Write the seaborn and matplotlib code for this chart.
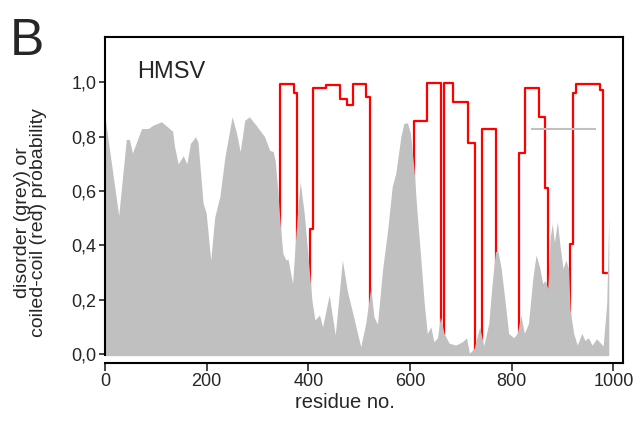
import numpy as np
import pandas as pd
import matplotlib
matplotlib.use("Agg")
import matplotlib.pyplot as plt
from matplotlib.ticker import FuncFormatter
import seaborn as sns

# disorder profile (grey)
dis_res = [0, 27, 42, 48, 54, 61, 72, 85, 95, 111, 124, 133, 137, 144, 154, 161,
           168, 178, 183, 193, 199, 208, 216, 226, 236, 250, 258, 266, 275, 284,
           297, 314, 324, 331, 335, 340, 345, 350, 356, 360, 369, 378, 384, 392,
           399, 407, 413, 422, 428, 441, 453, 467, 477, 490, 503, 513, 523, 529,
           536, 546, 556, 565, 572, 582, 588, 595, 601, 608, 614, 621, 628, 634,
           641, 647, 654, 660, 667, 677, 690, 703, 711, 717, 726, 737, 745, 755,
           761, 768, 773, 779, 786, 794, 804, 811, 818, 825, 833, 842, 848, 855,
           861, 866, 871, 876, 880, 884, 890, 895, 901, 907, 912, 915, 922, 929,
           938, 944, 951, 958, 967, 980, 987, 991]
dis_val = [0.873, 0.51, 0.79, 0.79, 0.74, 0.775, 0.83, 0.83, 0.843, 0.855, 0.835,
           0.82, 0.763, 0.70, 0.73, 0.70, 0.775, 0.80, 0.78, 0.555, 0.52, 0.346,
           0.505, 0.58, 0.726, 0.873, 0.82, 0.745, 0.861, 0.873, 0.843, 0.80,
           0.75, 0.745, 0.71, 0.60, 0.47, 0.37, 0.346, 0.35, 0.26, 0.505, 0.634,
           0.518, 0.37, 0.199, 0.125, 0.144, 0.10, 0.217, 0.07, 0.346, 0.23,
           0.13, 0.027, 0.113, 0.248, 0.137, 0.11, 0.31, 0.456, 0.616, 0.665,
           0.80, 0.849, 0.851, 0.812, 0.677, 0.518, 0.358, 0.187, 0.076, 0.10,
           0.045, 0.06, 0.137, 0.076, 0.04, 0.033, 0.045, 0.06, 0.003, 0.02,
           0.10, 0.03, 0.113, 0.248, 0.377, 0.379, 0.32, 0.211, 0.076, 0.06,
           0.076, 0.144, 0.076, 0.113, 0.285, 0.364, 0.32, 0.26, 0.27, 0.242,
           0.432, 0.48, 0.41, 0.487, 0.40, 0.315, 0.346, 0.31, 0.162, 0.076,
           0.033, 0.076, 0.05, 0.06, 0.033, 0.056, 0.03, 0.187, 0.505]

# coiled-coil probability (red), step breakpoints
cc_res = [0, 344, 371, 378, 404, 410, 435, 463, 477, 487, 514, 522, 608, 634,
          661, 666, 684, 714, 728, 742, 770, 805, 814, 827, 853, 865, 871, 914,
          920, 927, 974, 980, 987]
cc_val = [0, 0.994, 0.962, 0, 0.459, 0.98, 0.99, 0.94, 0.916, 0.994, 0.947, 0,
          0.859, 0.996, 0, 0.996, 0.929, 0.778, 0, 0.827, 0, 0.05, 0.741, 0.978,
          0.873, 0.61, 0, 0.405, 0.96, 0.993, 0.972, 0.30, 0.30]

# grey reference bar
ref_start, ref_end, ref_level = 838, 966, 0.827

x_ticks = [0, 200, 400, 600, 800, 1000]
y_ticks = [0.0, 0.2, 0.4, 0.6, 0.8, 1.0]

sns.set_style("ticks")
plt.rcParams["font.family"] = ["Liberation Sans", "DejaVu Sans"]

fig = plt.figure(figsize=(6.44, 4.22), dpi=100)
ax = fig.add_axes([0.163, 0.1398, 0.8044, 0.7725])

cc = pd.DataFrame({"res": cc_res, "prob": cc_val})
sns.lineplot(data=cc, x="res", y="prob", ax=ax, color="#ff0000", lw=1.6,
             drawstyle="steps-post", zorder=1, estimator=None)
# fill slightly below zero so the red baseline stays hidden
ax.fill_between(dis_res, dis_val, -0.006, color="#c0c0c0", lw=0, zorder=2)
ax.hlines(ref_level, ref_start, ref_end, color="#c0c0c0", lw=1.5, zorder=3)

ax.set_xlim(0, 1019)
ax.set_ylim(-0.033, 1.167)
ax.set_xticks(x_ticks)
ax.set_yticks(y_ticks)
ax.yaxis.set_major_formatter(FuncFormatter(lambda v, p: f"{v:.1f}".replace(".", ",")))

for s in ax.spines.values():
    s.set_linewidth(1.5)
    s.set_color("black")
    s.set_visible(True)
ax.spines["left"].set_bounds(-0.004, 1.167)

ax.tick_params(axis="y", length=4, width=1.2, pad=2, labelsize=13)
ax.tick_params(axis="x", length=5.5, width=1.2, pad=2, labelsize=13)

ax.set_xlabel("residue no.", fontsize=14.5)
ax.xaxis.set_label_coords(0.463, -0.092)
ax.set_ylabel("disorder (grey) or\ncoiled-coil (red) probability", fontsize=14,
              linespacing=0.95)
ax.yaxis.set_label_coords(-0.112, 0.43)

ax.text(64, 1.016, "HMSV", fontsize=17, va="baseline")
fig.text(10 / 644, 1 - 55 / 422, "B", fontsize=37, va="baseline")

fig.savefig("out.png", dpi=100)
